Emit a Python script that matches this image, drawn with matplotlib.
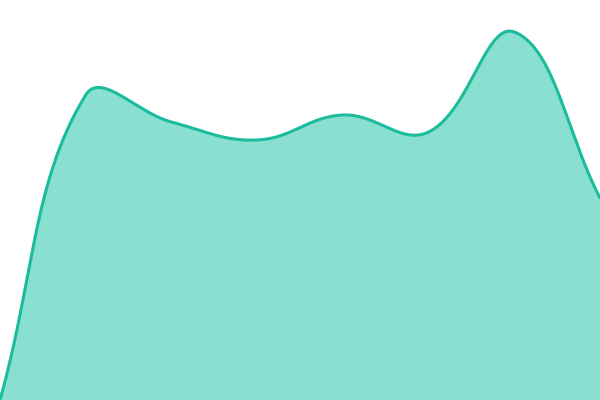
import numpy as np
import matplotlib
matplotlib.use("Agg")
import matplotlib.pyplot as plt

# values (height above the bottom, canvas px units)
labels = ["1", "2", "3", "4", "5", "6", "7", "8"]
values = [0, 305, 278, 260, 285, 268, 368, 202]

line_color = "#1abc9c"
fill_color = "#8ae0d0"

W, H = 600, 400


def spline(xs, ys, tension=0.4, steps=60):
    # bezier control points like chart.js splineCurve
    n = len(xs)
    cp = []
    for i in range(n):
        px, py = (xs[i - 1], ys[i - 1]) if i > 0 else (xs[i], ys[i])
        nx, ny = (xs[i + 1], ys[i + 1]) if i < n - 1 else (xs[i], ys[i])
        cx, cy = xs[i], ys[i]
        d01 = np.hypot(cx - px, cy - py)
        d12 = np.hypot(nx - cx, ny - cy)
        s01 = d01 / (d01 + d12) if d01 + d12 else 0
        s12 = d12 / (d01 + d12) if d01 + d12 else 0
        fa, fb = tension * s01, tension * s12
        prev_cp = (cx - fa * (nx - px), cy - fa * (ny - py))
        next_cp = (cx + fb * (nx - px), cy + fb * (ny - py))
        # keep inside the chart area
        prev_cp = (min(max(prev_cp[0], 0), W), min(max(prev_cp[1], 0), H))
        next_cp = (min(max(next_cp[0], 0), W), min(max(next_cp[1], 0), H))
        cp.append((prev_cp, next_cp))
    outx, outy = [], []
    t = np.linspace(0, 1, steps)
    for i in range(n - 1):
        p0 = np.array([xs[i], ys[i]])
        p1 = np.array(cp[i][1])
        p2 = np.array(cp[i + 1][0])
        p3 = np.array([xs[i + 1], ys[i + 1]])
        pts = ((1 - t) ** 3)[:, None] * p0 + (3 * (1 - t) ** 2 * t)[:, None] * p1 \
            + (3 * (1 - t) * t ** 2)[:, None] * p2 + (t ** 3)[:, None] * p3
        outx.extend(pts[:, 0])
        outy.extend(pts[:, 1])
    return np.array(outx), np.array(outy)


xs = np.linspace(0, W, len(values))
sx, sy = spline(list(xs), values)

fig = plt.figure(figsize=(6, 4), dpi=100)
ax = fig.add_axes([0, 0, 1, 1])
ax.fill_between(sx, 0, sy, color=fill_color, lw=0)
ax.plot(sx, sy, color=line_color, lw=2.2, solid_capstyle="round")
ax.set_xlim(0, W)
ax.set_ylim(0, H)
ax.axis("off")
fig.savefig("out.png", dpi=100)
